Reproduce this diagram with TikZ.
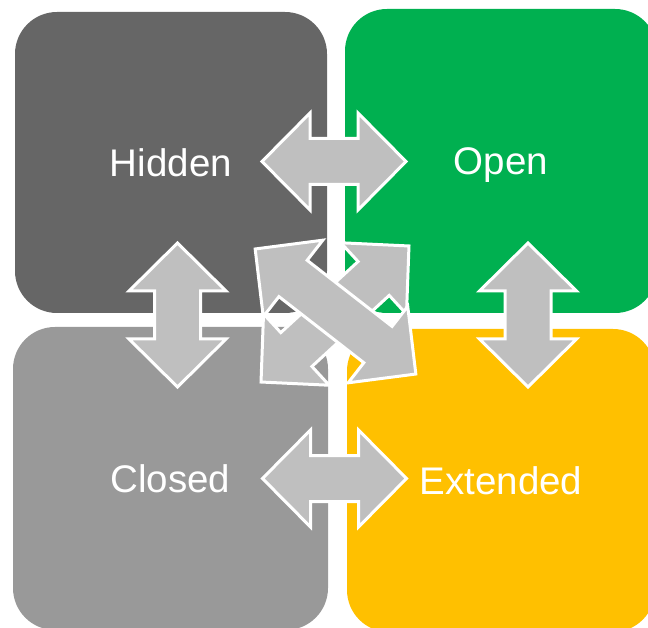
\documentclass[tikz,border=0pt]{standalone}
\usepackage{fontspec}
\setmainfont{Liberation Sans}
\definecolor{hiddengray}{HTML}{666666}
\definecolor{closedgray}{HTML}{999999}
\definecolor{opengreen}{HTML}{00B050}
\definecolor{extyellow}{HTML}{FFC000}
\definecolor{arrowgray}{HTML}{BFBFBF}
\tikzset{
  quad/.style={rounded corners=42pt, text=white, font=\fontsize{38.5}{42}\selectfont,
    text height=27.5pt, text depth=0pt, inner sep=0pt, anchor=center},
  blockarrow/.style={fill=arrowgray, draw=white, line width=3pt, line join=miter},
  dblarrow/.pic={
    \path[blockarrow] (-#1,0) -- (-#1+48,48.5) -- (-#1+48,23) -- (#1-48,23)
      -- (#1-48,48.5) -- (#1,0) -- (#1-48,-48.5) -- (#1-48,-23)
      -- (-#1+48,-23) -- (-#1+48,-48.5) -- cycle;
  }
}
\begin{document}
\begin{tikzpicture}[x=1pt,y=-1pt]
  \useasboundingbox (0,0) rectangle (648,628);
  \clip (0,0) rectangle (648,628);
  % quadrants
  \node[quad, fill=hiddengray, minimum width=312pt, minimum height=301pt] (hidden) at (171,162.5) {Hidden};
  \node[quad, fill=opengreen, minimum width=312pt, minimum height=304pt] (open) at (501,161) {Open};
  \node[quad, fill=closedgray, minimum width=315pt, minimum height=303pt] (closed) at (170.5,478.5) {Closed};
  \node[quad, fill=extyellow, minimum width=308pt, minimum height=303pt] (extended) at (501,480.5) {Extended};
  % straight double arrows
  \pic (hidopen) at (334,161.5) {dblarrow=72};
  \pic (closext) at (334.5,478.5) {dblarrow=72};
  \pic[rotate=90] (hidclos) at (177.5,315) {dblarrow=72};
  \pic[rotate=90] (openext) at (528,315) {dblarrow=72};
  % diagonal double arrows
  \pic[rotate=42.6] (diagb) at (335,314) {dblarrow=100.5};
  \pic[rotate=-37.9] (diaga) at (335.5,311.5) {dblarrow=101.8};
\end{tikzpicture}
\end{document}
